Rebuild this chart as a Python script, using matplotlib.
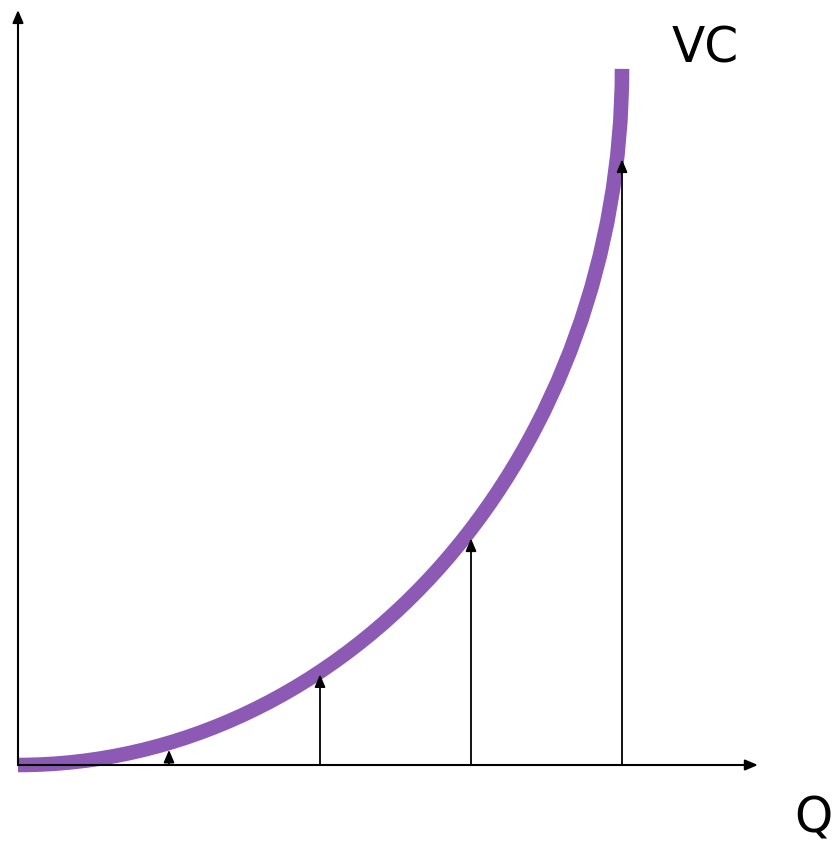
import matplotlib
matplotlib.use("Agg")
import matplotlib.pyplot as plt
from matplotlib.patches import Arc

# quantities where the arrows stand, and the height of each arrow
q_marks = [1, 2, 3, 4]
vc_heights = [0.10, 0.60, 1.50, 4.01]

# VC curve: quarter ellipse from the origin up to (q_end, vc_top)
q_end = 4.0
vc_top = 4.61

axis_x_end = 4.90
axis_y_end = 5.00

purple = "#8c59b4"

fig = plt.figure(figsize=(8.34, 8.44), dpi=100)
ax = fig.add_axes([0, 0, 1, 1])
ax.set_xlim(-18 / 151, (834 - 18) / 151)
ax.set_ylim(-79 / 151, 765 / 151)
ax.axis("off")

arrow_kw = dict(arrowstyle="-|>,head_length=0.75,head_width=0.32",
                mutation_scale=10, color="black", lw=1.5,
                shrinkA=0, shrinkB=0)

# axes
ax.annotate("", xy=(0, axis_y_end), xytext=(0, 0), arrowprops=arrow_kw)
ax.annotate("", xy=(axis_x_end, 0), xytext=(0, 0), arrowprops=arrow_kw)

# curve
arc = Arc((0, vc_top), 2 * q_end, 2 * vc_top, theta1=270, theta2=360,
          color=purple, lw=10.5, zorder=2)
ax.add_patch(arc)

# vertical arrows under the curve
for q, h in zip(q_marks, vc_heights):
    ax.annotate("", xy=(q, h), xytext=(q, 0),
                arrowprops=dict(arrow_kw, lw=1.3), zorder=3)

ax.text(4.33, 4.65, "VC", fontsize=35, ha="left", va="baseline")
ax.text(5.14, -0.445, "Q", fontsize=35, ha="left", va="baseline")

fig.savefig("out.png", dpi=100)
